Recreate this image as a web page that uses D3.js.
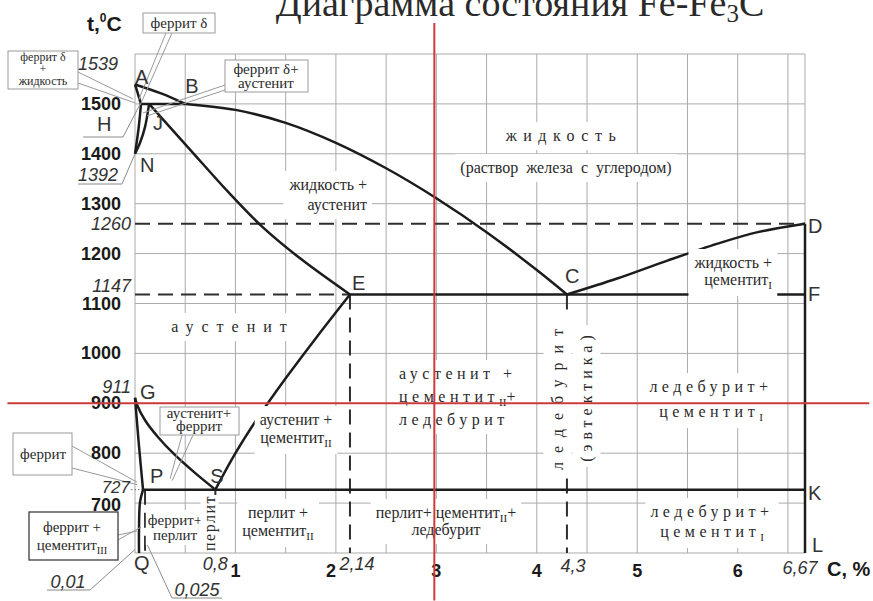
<!DOCTYPE html>
<html lang="ru">
<head>
<meta charset="utf-8">
<title>Диаграмма состояния Fe-Fe3C</title>
<script src="https://cdn.jsdelivr.net/npm/d3@7/dist/d3.min.js"></script>
<style>
html,body{margin:0;padding:0;background:#fff;}
svg{display:block;}
.serif{font-family:"Liberation Serif","Times New Roman",serif;fill:#2a2a2a;}
.tick{font-family:"Liberation Sans Narrow","Liberation Sans",Arial,sans-serif;font-weight:bold;fill:#1a1a1a;}
.ital{font-family:"Liberation Sans Narrow","Liberation Sans",Arial,sans-serif;font-style:italic;fill:#333;}
.pt{font-family:"Liberation Sans",Arial,sans-serif;fill:#333;}
</style>
</head>
<body>
<svg id="chart" width="873" height="601" viewBox="0 0 873 601"></svg>
<script>
// ---------------- DATA ----------------
const carbonGrid = [0,0.5,1,1.5,2,2.5,3,3.5,4,4.5,5,5.5,6,6.5,6.67];
const tempGrid   = [600,700,800,900,1000,1100,1200,1300,1400,1500,1600];
const carbonTicks = [1,2,3,4,5,6];
const tempTicks   = [1500,1400,1300,1200,1100,1000,900,800,700];
const tempMarks   = ["1539","1392","1260","1147","911","727"];
const carbonMarks = ["0,8","2,14","4,3","6,67"];

const pointNames  = ["A","B","H","J","N","G","P","S","Q","E","C","D","F","K","L"];
const pointCarbon = [0,0.5,0.06,0.14,0,0,0.08,0.8,0.04,2.14,4.3,6.67,6.67,6.67,6.67];
const pointTemp   = [1539,1500,1500,1500,1400,911,727,727,600,1118,1118,1260,1118,727,600];

// phase boundaries: [carbon %, temperature °C]
const lineAB = [[0,1539],[0.26,1521],[0.5,1500]];
const lineAH = [[0,1539],[0.06,1500]];
const lineHB = [[0.06,1500],[0.5,1500]];
const lineHN = [[0.06,1500],[0.035,1450],[0,1400]];
const lineJN = [[0.14,1500],[0.10,1454],[0.05,1422],[0,1400]];
const lineJE = [[0.14,1500],[0.55,1408],[0.93,1323],[1.26,1255],[1.64,1191],[2.14,1118]];
const lineBC = [[0.5,1500],[1.0,1488],[1.5,1462],[2.0,1422],[2.5,1371],[3.0,1311],[3.5,1243],[4.0,1167],[4.3,1118]];
const lineCD = [[4.3,1118],[4.8,1150],[5.3,1186],[5.8,1220],[6.2,1243],[6.67,1260]];
const lineES = [[2.14,1118],[1.81,1033],[1.50,950],[1.22,870],[1.0,800],[0.8,727]];
const lineGS = [[0,911],[0.02,897],[0.10,866],[0.23,832],[0.40,796],[0.60,760],[0.8,727]];
const lineGP = [[0,911],[0.04,814],[0.08,727]];
const linePQ = [[0.08,727],[0.05,702],[0.04,650],[0.04,600]];
const lineECF = [[2.14,1118],[6.67,1118]];
const linePSK = [[0.08,727],[6.67,727]];
const lineDL  = [[6.67,1260],[6.67,600]];
const dashedLines = [
  [[0,1260],[6.67,1260]],
  [[0,1118],[2.14,1118]],
  [[2.14,1118],[2.14,600]],
  [[4.3,1118],[4.3,600]],
  [[0.8,727],[0.8,600]],
  [[0.1,727],[0.1,600]]
];
const redMarks = [[[2.98,1662],[2.98,505]],[[-1.27,900],[7.31,900]]];

// ---------------- SETUP ----------------
const svg = d3.select("#chart");
const x = d3.scaleLinear().domain([0, 6.67]).range([135, 805]);
const y = d3.scaleLinear().domain([600, 1600]).range([553, 54]);
const straight = d3.line().x(d => x(d[0])).y(d => y(d[1]));
const smooth = d3.line().x(d => x(d[0])).y(d => y(d[1])).curve(d3.curveCatmullRom.alpha(0.5));

const gGrid = svg.append("g");
const gBg = svg.append("g");
const gDash = svg.append("g");
const gSolid = svg.append("g");
const gLead = svg.append("g");
const gText = svg.append("g");
const gRed = svg.append("g");

// grid
gGrid.selectAll("line.v").data(carbonGrid).join("line")
  .attr("x1", d => x(d)).attr("x2", d => x(d))
  .attr("y1", y(600)).attr("y2", y(1600))
  .attr("stroke", "#ababab").attr("stroke-width", 1);
gGrid.selectAll("line.h").data(tempGrid).join("line")
  .attr("y1", d => y(d)).attr("y2", d => y(d))
  .attr("x1", x(0)).attr("x2", x(6.67))
  .attr("stroke", "#ababab").attr("stroke-width", 1);

// dashed
gDash.selectAll("path").data(dashedLines).join("path")
  .attr("d", straight).attr("fill", "none")
  .attr("stroke", "#2e2e2e").attr("stroke-width", 2).attr("stroke-dasharray", "15,8");

// solid phase lines
const solidSmooth = [lineAB, lineHN, lineJN, lineJE, lineBC, lineCD, lineES, lineGS, lineGP, linePQ];
const solidStraight = [lineAH, lineHB, lineECF, linePSK, lineDL];
gSolid.selectAll("path.s").data(solidSmooth).join("path")
  .attr("d", smooth).attr("fill", "none").attr("stroke", "#1c1c1c").attr("stroke-width", 2.5);
gSolid.selectAll("path.t").data(solidStraight).join("path")
  .attr("class","t")
  .attr("d", straight).attr("fill", "none").attr("stroke", "#1c1c1c").attr("stroke-width", 2.5);

// 727 dotted leader
gDash.append("line").attr("x1", x(0) - 4).attr("x2", x(0.08)).attr("y1", y(727)).attr("y2", y(727))
  .attr("stroke", "#777").attr("stroke-width", 1).attr("stroke-dasharray", "1.5,2");

// ---------------- TEXT ----------------
function addText(g, o) {
  const grp = g.append("g");
  if (o.rotate) grp.attr("transform", `translate(${o.x},${o.y}) rotate(-90)`);
  const t = grp.append("text").attr("class", o.cls || "serif")
    .attr("text-anchor", o.anchor || "middle")
    .attr("font-size", o.fs || 16);
  if (o.ls) t.attr("letter-spacing", o.ls);
  if (o.ws) t.attr("word-spacing", o.ws);
  if (o.rotate) t.attr("dominant-baseline", "central");
  const x0 = o.rotate ? 0 : o.x, y0 = o.rotate ? 0 : o.y;
  o.lines.forEach((ln, i) => {
    const segs = Array.isArray(ln) ? ln : [ln];
    let prevSub = false;
    segs.forEach((s, j) => {
      const ts = t.append("tspan");
      if (j === 0) ts.attr("x", x0).attr("y", y0 + i * (o.lh || 18));
      if (typeof s === "string") {
        ts.text(s);
        if (prevSub && j > 0) ts.attr("dy", -4);
        prevSub = false;
      } else {
        ts.text(s.sub).attr("font-size", (o.fs || 16) * 0.7).attr("dy", 4).attr("letter-spacing", 0);
        prevSub = true;
      }
    });
  });
  if (o.bg) {
    const b = t.node().getBBox();
    const p = o.pad === undefined ? 5 : o.pad;
    grp.insert("rect", "text").attr("x", b.x - p).attr("y", b.y - p)
      .attr("width", b.width + 2 * p).attr("height", b.height + 2 * p).attr("fill", "#fff");
  }
  if (o.box) {
    grp.insert("rect", "text").attr("x", o.box[0]).attr("y", o.box[1])
      .attr("width", o.box[2]).attr("height", o.box[3])
      .attr("fill", "#fff").attr("stroke", o.boxStroke || "#9a9a9a").attr("stroke-width", o.boxSw || 1);
  }
  return grp;
}

// title (cut at the top edge)
const title = svg.append("text").attr("class", "serif").attr("x", 520).attr("y", 16)
  .attr("text-anchor", "middle").attr("font-size", 38).attr("fill", "#222");
title.append("tspan").text("Диаграмма состояния Fe-Fe");
title.append("tspan").text("3").attr("font-size", 25).attr("dy", 6);
title.append("tspan").text("C").attr("dy", -6);

// region labels (with white background clearing grid)
const regionLabels = [
  {x: 564, y: 141, lines: ["жидкость"], ls: 6.5},
  {x: 566, y: 173, lines: ["(раствор железа с углеродом)"], ws: 4},
  {x: 367, y: 190, anchor: "end", lines: ["жидкость +", "аустенит"], lh: 20},
  {x: 772, y: 268, anchor: "end", lines: ["жидкость +", ["цементит", {sub: "I"}]], lh: 17},
  {x: 233, y: 332, lines: ["аустенит"], ls: 8},
  {x: 399, y: 379, anchor: "start", lines: ["аустенит +", ["цементит", {sub: "II"}, "+"], "ледебурит"], ls: 4.5, lh: 23},
  {x: 711, y: 392, lines: ["ледебурит+", ["цементит", {sub: "I"}]], ls: 4.5, lh: 25},
  {x: 296, y: 425, lines: ["аустенит +", ["цементит", {sub: "II"}]], lh: 18},
  {x: 278, y: 518, lines: ["перлит +", ["цементит", {sub: "II"}]], lh: 18},
  {x: 446, y: 518, lines: [["перлит+ цементит", {sub: "II"}, "+"], "ледебурит"], lh: 17},
  {x: 712, y: 517, lines: ["ледебурит+", ["цементит", {sub: "I"}]], ls: 4.5, lh: 20},
  {x: 175, y: 525, lines: ["феррит+", "перлит"], lh: 15, fs: 15, pad: 2},
  {x: 557, y: 395, rotate: true, lines: ["ледебурит"], ls: 9},
  {x: 586, y: 396, rotate: true, lines: ["(эвтектика)"], ls: 5},
  {x: 209, y: 523, rotate: true, lines: ["перлит"], fs: 16, ls: 1.5, pad: 0}
];
regionLabels.forEach(o => addText(gText, Object.assign({bg: true, pad: 5}, o)));

// boxed labels
const boxLabels = [
  {x: 179, y: 28, lines: ["феррит δ"], fs: 15, box: [143, 13, 72, 20]},
  {x: 43, y: 61, lines: ["феррит δ", "+", "жидкость"], fs: 12, lh: 12, box: [8, 51, 70, 38]},
  {x: 266, y: 74, lines: ["феррит δ+", "аустенит"], fs: 15, lh: 14, box: [225, 60, 83, 32]},
  {x: 199, y: 418, lines: ["аустенит+", "феррит"], fs: 15, lh: 13, box: [160, 407, 79, 28]},
  {x: 43, y: 459, lines: ["феррит"], fs: 15, box: [13, 433, 59, 42]},
  {x: 72, y: 532, lines: ["феррит +", ["цементит", {sub: "III"}]], fs: 15, lh: 18, box: [29, 512, 89, 48], boxStroke: "#3c3c3c", boxSw: 1.3}
];

// leader lines: start in pixels (box edge), end at a [carbon, temp] location
const leaders = [
  [[166, 33], [0.03, 1505]], [[172, 33], [0.05, 1497]],
  [[78, 72], [-0.02, 1510]], [[78, 83], [0.0, 1502]],
  [[225, 85], [0.08, 1482]], [[225, 90], [0.12, 1476]],
  [[182, 435], [0.35, 749]], [[193, 435], [0.37, 745]],
  [[72, 446], [0.02, 742]], [[72, 468], [0.02, 737]],
  [[118, 535], [0.02, 644]], [[118, 540], [0.06, 652]]
];
gLead.selectAll("line.ld").data(leaders).join("line")
  .attr("x1", d => d[0][0]).attr("y1", d => d[0][1])
  .attr("x2", d => x(d[1][0])).attr("y2", d => y(d[1][1]))
  .attr("stroke", "#9a9a9a").attr("stroke-width", 1);
// underline leaders for H, 1392, 0,01, 0,025
const polyLeaders = [
  {pts: [[83, 137], [123, 137]], to: [0.05, 1499]},
  {pts: [[78, 184], [122, 184]], to: [0, 1400]},
  {pts: [[47, 590], [90, 590]], to: [0.0, 607]},
  {pts: [[222, 598], [172, 598]], to: [0.12, 618]}
];
polyLeaders.forEach(p => {
  const pts = p.pts.concat([[x(p.to[0]), y(p.to[1])]]);
  gLead.append("path").attr("d", d3.line()(pts)).attr("fill", "none")
    .attr("stroke", "#8a8a8a").attr("stroke-width", 1);
});
boxLabels.forEach(o => addText(gText, o));

// axis tick labels
gText.selectAll("text.yt").data(tempTicks).join("text").attr("class", "tick")
  .attr("x", 121).attr("y", d => y(d) + (d === 700 ? 8 : 6)).attr("text-anchor", "end").attr("font-size", 18)
  .text(d => d);
gText.selectAll("text.xt").data(carbonTicks).join("text").attr("class", "tick")
  .attr("x", d => x(d) + (d === 2 ? -5 : 0)).attr("y", 577).attr("text-anchor", "middle").attr("font-size", 18)
  .text(d => d);

// italic special values
const tempMarkPos = [
  {x: 118, y: 70}, {x: 118, y: 181}, {x: 131, y: y(1260) + 6}, {x: 131, y: y(1118) - 3},
  {x: 131, y: 393}, {x: 130, y: y(727) + 3}
];
tempMarks.forEach((m, i) => {
  gText.append("text").attr("class", "ital").attr("x", tempMarkPos[i].x).attr("y", tempMarkPos[i].y)
    .attr("text-anchor", "end").attr("font-size", i === 5 ? 17 : 18).text(m);
});
const carbonMarkPos = [{x: x(0.8), y: 570}, {x: x(2.14) + 7, y: 570}, {x: x(4.3) + 6, y: 572}, {x: x(6.67) - 5, y: 574}];
carbonMarks.forEach((m, i) => {
  gText.append("text").attr("class", "ital").attr("x", carbonMarkPos[i].x).attr("y", carbonMarkPos[i].y)
    .attr("text-anchor", "middle").attr("font-size", 18).text(m);
});
gText.append("text").attr("class", "ital").attr("x", 68).attr("y", 588).attr("text-anchor", "middle").attr("font-size", 18).text("0,01");
gText.append("text").attr("class", "ital").attr("x", 197).attr("y", 596).attr("text-anchor", "middle").attr("font-size", 18).text("0,025");

// axis titles
const tl = gText.append("text").attr("class", "tick").attr("x", 87).attr("y", 31).attr("font-size", 21);
tl.append("tspan").text("t,");
tl.append("tspan").text("0").attr("font-size", 12).attr("dy", -9);
tl.append("tspan").text("C").attr("dy", 9);
gText.append("text").attr("class", "tick").attr("x", 827).attr("y", 576).attr("font-size", 20).text("C, %");

// point letters
const pointOffsets = {A:[0,0],B:[0,-11],H:[-44,27],J:[4,26],N:[5,18],G:[5,1],P:[7,-7],S:[-5,-7],Q:[-5,17],
  E:[2,-5],C:[-2,-12],D:[3,9],F:[3,6],K:[3,10],L:[7,-1]};
pointNames.forEach((n, i) => {
  gText.append("text").attr("class", "pt").attr("font-size", 20)
    .attr("x", x(pointCarbon[i]) + pointOffsets[n][0])
    .attr("y", y(pointTemp[i]) + pointOffsets[n][1]).text(n);
});

// red reference marks
gRed.selectAll("path").data(redMarks).join("path").attr("d", straight)
  .attr("stroke", "#cc3b3b").attr("stroke-width", 2).attr("fill", "none");
</script>
</body>
</html>
